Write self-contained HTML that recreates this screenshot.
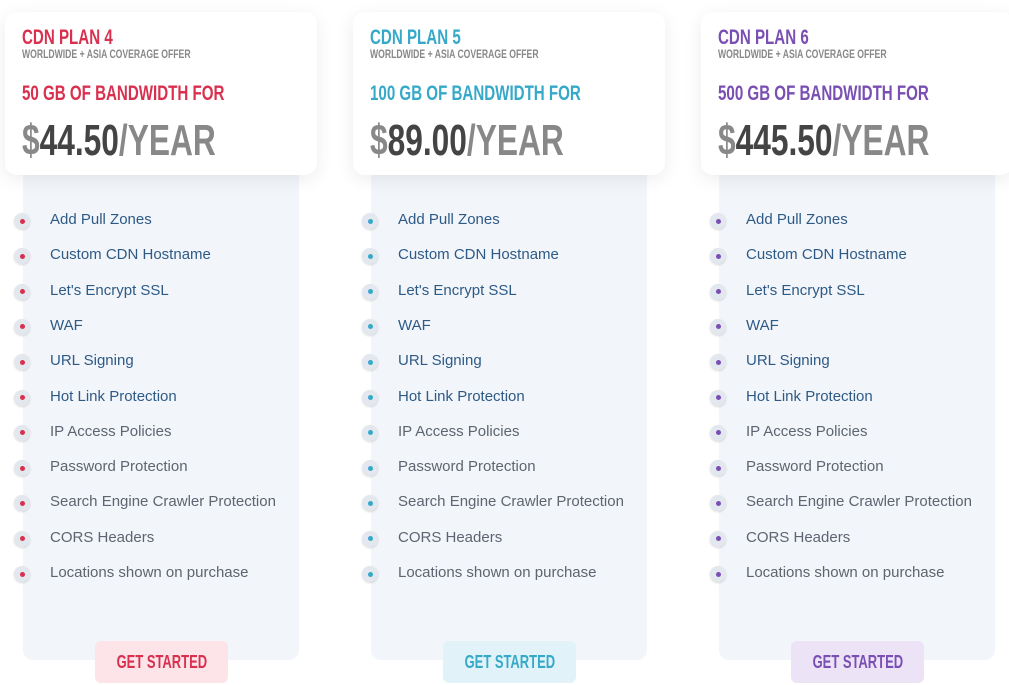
<!DOCTYPE html>
<html><head><meta charset="utf-8"><style>
body{margin:0;width:1009px;height:685px;background:#fff;font-family:"Liberation Sans",sans-serif;position:relative;overflow:hidden}
.panel{position:absolute;top:150px;width:276px;height:510px;background:#f2f5fa;border-radius:10px}
.card{position:absolute;top:12px;width:312px;height:163px;background:#fff;border-radius:12px;box-shadow:0 4px 18px rgba(0,0,0,0.08)}
.cond{display:inline-block;transform:scaleX(0.72);transform-origin:left center;font-weight:bold;white-space:nowrap}
.t{position:absolute;left:17px}
.feat{position:absolute;font-size:15px;white-space:nowrap}
.dot{position:absolute;width:16px;height:16px;border-radius:50%;background:#e3e7ee;box-shadow:0 1px 2px rgba(0,0,0,0.15)}
.dot i{position:absolute;left:5.5px;top:5.5px;width:5px;height:5px;border-radius:50%}
.btn{position:absolute;top:641px;width:133px;height:42px;border-radius:6px;text-align:center;line-height:42px;font-size:18px}
</style></head><body>
<div id="root"></div>
<script>
const plans=[{n:"CDN PLAN 4",bw:"50 GB OF BANDWIDTH FOR",p:"44.50",c:"#d9304f",b:"#fce4e9"},
{n:"CDN PLAN 5",bw:"100 GB OF BANDWIDTH FOR",p:"89.00",c:"#36a9c9",b:"#e1f3f8"},
{n:"CDN PLAN 6",bw:"500 GB OF BANDWIDTH FOR",p:"445.50",c:"#7a4fb3",b:"#ece3f7"}];
const feats=["Add Pull Zones","Custom CDN Hostname","Let's Encrypt SSL","WAF","URL Signing","Hot Link Protection","IP Access Policies","Password Protection","Search Engine Crawler Protection","CORS Headers","Locations shown on purchase"];
const root=document.getElementById('root');let h='';
plans.forEach((p,i)=>{const x=5+348*i;
h+=`<div class="panel" style="left:${x+18}px"></div>`;
h+=`<div class="card" style="left:${x}px">
<div class="t" style="top:14px;font-size:21px;color:${p.c}"><span class="cond">${p.n}</span></div>
<div class="t" style="top:35px;font-size:12px;color:#888"><span class="cond">WORLDWIDE + ASIA COVERAGE OFFER</span></div>
<div class="t" style="top:70px;font-size:21px;color:${p.c}"><span class="cond">${p.bw}</span></div>
<div class="t" style="top:104px;font-size:44px;color:#888"><span class="cond">$<span style="color:#444">${p.p}</span>/YEAR</span></div>
</div>`;
feats.forEach((f,j)=>{const y=221+35.3*j;
h+=`<div class="dot" style="left:${x+9}px;top:${y-8}px"><i style="background:${p.c}"></i></div>`;
h+=`<div class="feat" style="left:${x+45}px;top:${y-10}px;color:${j<6?'#2e5a86':'#5d6570'}">${f}</div>`;});
h+=`<div class="btn" style="left:${x+90}px;background:${p.b};color:${p.c}"><span class="cond" style="transform-origin:center">GET STARTED</span></div>`;
});
root.innerHTML=h;
</script>
</body></html>
